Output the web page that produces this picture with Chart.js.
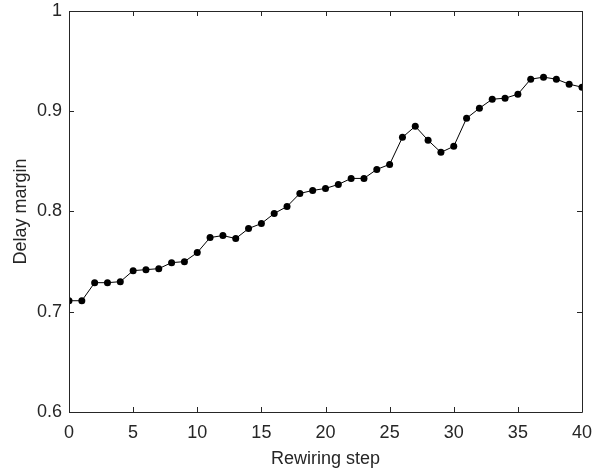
<!DOCTYPE html>
<html>
<head>
<meta charset="utf-8">
<script src="https://cdn.jsdelivr.net/npm/chart.js@4/dist/chart.umd.min.js"></script>
<style>
  body { margin: 0; background: #fff; }
  #wrap { width: 602px; height: 471px; position: relative; }
</style>
</head>
<body>
<div id="wrap"><canvas id="delayChart"></canvas></div>
<script>
// Rewiring steps 0..40 and the measured delay margin at each step
const steps = [0, 1, 2, 3, 4, 5, 6, 7, 8, 9, 10, 11, 12, 13, 14, 15, 16, 17, 18, 19, 20,
               21, 22, 23, 24, 25, 26, 27, 28, 29, 30, 31, 32, 33, 34, 35, 36, 37, 38, 39, 40];
const delayMargin = [0.711, 0.711, 0.729, 0.729, 0.730, 0.741, 0.742, 0.743, 0.749, 0.750,
                     0.759, 0.774, 0.776, 0.773, 0.783, 0.788, 0.798, 0.805, 0.818, 0.821,
                     0.823, 0.827, 0.833, 0.833, 0.842, 0.847, 0.874, 0.885, 0.871, 0.859,
                     0.865, 0.893, 0.903, 0.912, 0.913, 0.917, 0.932, 0.934, 0.932, 0.927, 0.924];
const xTicks = [0, 5, 10, 15, 20, 25, 30, 35, 40];
const yTicks = [0.6, 0.7, 0.8, 0.9, 1];

const axisColor = '#262626';
const fontFamily = '"Liberation Sans", Arial, sans-serif';

// MATLAB-style box with inward ticks on all four sides
const boxTicks = {
    id: 'boxTicks',
    afterDatasetsDraw(chart) {
        const { ctx, chartArea: a, scales } = chart;
        const len = 5;
        ctx.save();
        ctx.strokeStyle = axisColor;
        ctx.lineWidth = 1;
        ctx.beginPath();
        ctx.rect(Math.round(a.left) + 0.5, Math.round(a.top) + 0.5,
                 Math.round(a.right - a.left), Math.round(a.bottom - a.top));
        xTicks.forEach(v => {
            const px = Math.round(scales.x.getPixelForValue(v)) + 0.5;
            ctx.moveTo(px, a.bottom); ctx.lineTo(px, a.bottom - len);
            ctx.moveTo(px, a.top); ctx.lineTo(px, a.top + len);
        });
        yTicks.forEach(v => {
            const py = Math.round(scales.y.getPixelForValue(v)) + 0.5;
            ctx.moveTo(a.left, py); ctx.lineTo(a.left + len, py);
            ctx.moveTo(a.right, py); ctx.lineTo(a.right - len, py);
        });
        ctx.stroke();
        ctx.restore();
    }
};

const ctx = document.getElementById('delayChart').getContext('2d');
new Chart(ctx, {
    type: 'line',
    data: {
        datasets: [{
            data: steps.map((s, i) => ({ x: s, y: delayMargin[i] })),
            borderColor: '#000',
            backgroundColor: '#000',
            borderWidth: 1,
            tension: 0,
            pointRadius: 3.5,
            pointBackgroundColor: '#000',
            pointBorderWidth: 0
        }]
    },
    options: {
        responsive: true,
        maintainAspectRatio: false,
        animation: false,
        layout: { padding: { top: 11, right: 20, left: 6, bottom: 0 } },
        plugins: {
            legend: { display: false },
            tooltip: { enabled: false }
        },
        scales: {
            x: {
                type: 'linear',
                min: 0,
                max: 40,
                afterBuildTicks: s => { s.ticks = xTicks.map(v => ({ value: v })); },
                afterFit: s => { s.height = 59; s.paddingLeft = 0; s.paddingRight = 0; },
                grid: { display: false, drawTicks: false },
                border: { display: false },
                ticks: {
                    color: axisColor,
                    padding: 10,
                    maxRotation: 0,
                    font: { family: fontFamily, size: 18 }
                },
                title: {
                    display: true,
                    text: 'Rewiring step',
                    color: axisColor,
                    padding: { top: 0, bottom: 1 },
                    font: { family: fontFamily, size: 18 }
                }
            },
            y: {
                min: 0.6,
                max: 1,
                afterBuildTicks: s => { s.ticks = yTicks.map(v => ({ value: v })); },
                afterFit: s => { s.width = 63; s.paddingTop = 0; s.paddingBottom = 0; },
                grid: { display: false, drawTicks: false },
                border: { display: false },
                ticks: {
                    color: axisColor,
                    padding: 7,
                    font: { family: fontFamily, size: 18 },
                    callback: v => String(Math.round(v * 10) / 10)
                },
                title: {
                    display: true,
                    text: 'Delay margin',
                    color: axisColor,
                    padding: { bottom: 0 },
                    font: { family: fontFamily, size: 18 }
                }
            }
        }
    },
    plugins: [boxTicks]
});
</script>
</body>
</html>
